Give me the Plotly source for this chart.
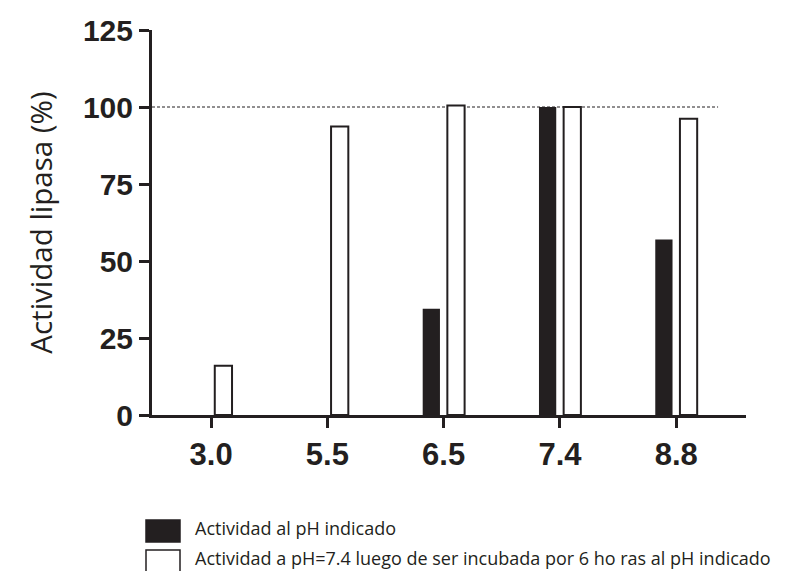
import plotly.graph_objects as go

# pH values tested and lipase activity (%) for each condition
ph_labels = ["3.0", "5.5", "6.5", "7.4", "8.8"]
activity_at_ph = [0, 0, 34.5, 100, 57]
activity_after_incubation = [16, 93.7, 100.5, 100, 96.2]

name_at_ph = "Actividad al pH indicado"
name_after = "Actividad a pH=7.4 luego de ser incubada por 6 ho ras al pH indicado"
y_title = "Actividad lipasa (%)"
y_ticks = [0, 25, 50, 75, 100, 125]
reference_level = 100

ink = "#231f20"

fig = go.Figure()
fig.add_trace(go.Bar(
    x=ph_labels, y=activity_at_ph, name=name_at_ph,
    marker=dict(color=ink, line=dict(width=0)),
    showlegend=False,
))
fig.add_trace(go.Bar(
    x=ph_labels, y=activity_after_incubation, name=name_after,
    marker=dict(color="white", line=dict(color=ink, width=2)),
    showlegend=False,
))

# dashed reference line at 100 %
fig.add_shape(type="line", xref="x", yref="y",
              x0=-0.508, x1=4.36, y0=reference_level, y1=reference_level,
              line=dict(color=ink, width=1, dash="3px,2px"), layer="below")

# hand-built legend below the plot
legend_rows = [(name_at_ph, ink), (name_after, "white")]
for i, (label, fill) in enumerate(legend_rows):
    top = 520 + i * 30
    fig.add_shape(type="rect", xref="paper", yref="paper",
                  x0=(146 - 152) / 594, x1=(180 - 152) / 594,
                  y0=(415 - top - 22) / 385, y1=(415 - top) / 385,
                  fillcolor=fill, line=dict(color=ink, width=1.5))
    fig.add_annotation(xref="paper", yref="paper",
                       x=(193 - 152) / 594, y=(415 - top - 8) / 385,
                       xanchor="left", yanchor="middle", showarrow=False,
                       text=label,
                       font=dict(family="Open Sans", size=18, color=ink))

fig.update_layout(
    width=797, height=571,
    margin=dict(l=152, r=51, t=30, b=156),
    paper_bgcolor="white", plot_bgcolor="white",
    barmode="group", bargap=0.576, bargroupgap=0.3,
    xaxis=dict(
        type="category", range=[-0.508, 4.60],
        showline=True, linecolor=ink, linewidth=3,
        ticks="outside", ticklen=10, tickwidth=3, tickcolor=ink,
        tickfont=dict(family="Liberation Sans", size=31, color=ink, weight="bold"),
        showgrid=False, zeroline=False,
    ),
    yaxis=dict(
        range=[0, 125], tickvals=y_ticks,
        showline=True, linecolor=ink, linewidth=3,
        ticks="outside", ticklen=10, tickwidth=3, tickcolor=ink,
        tickfont=dict(family="Liberation Sans", size=30, color=ink, weight="bold"),
        showgrid=False, zeroline=False,
        title=dict(text=y_title, standoff=22,
                   font=dict(family="Open Sans", size=29.5, color=ink)),
    ),
)

fig.write_html("out.html")
